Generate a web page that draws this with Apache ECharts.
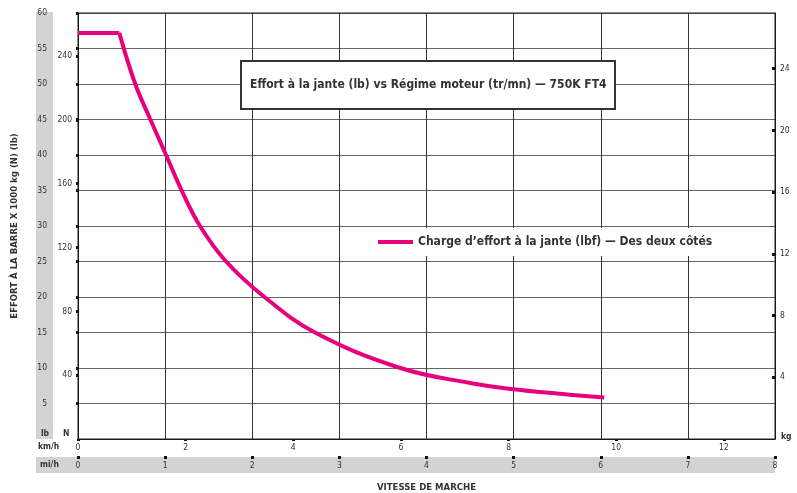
<!DOCTYPE html>
<html><head><meta charset="utf-8">
<script src="https://cdn.jsdelivr.net/npm/echarts@6/dist/echarts.min.js"></script>
<style>html,body{margin:0;padding:0;background:#fff}#c{width:797px;height:493px}</style>
</head><body><div id="c"></div>
<script>
// Data (speed in mi/h, effort in x1000 lb)
const speedMph  = [0, 0.474, 0.654, 0.827, 1.007, 1.19, 1.40, 1.70, 2.14, 2.72, 3.70, 4.50, 5.00, 5.50, 6.04];
const effortKlb = [57.2, 57.2, 50.1, 45.1, 40.1, 35.0, 30.0, 25.0, 20.0, 15.0, 10.0, 7.9, 7.0, 6.4, 5.85];
const cornerIndex = 1; // end of the constant-effort plateau

const seriesName = 'Charge d\u2019effort à la jante (lbf) — Des deux côtés';
const chartTitle = 'Effort à la jante (lb) vs Régime moteur (tr/mn) — 750K FT4';
const yTitle = 'EFFORT À LA BARRE X 1000 kg (N) (lb)';
const xTitle = 'VITESSE DE MARCHE';

// Axis scales
const lbAxis  = {min: 0, max: 60, interval: 5};
const nAxis   = {min: 0, max: 266.9, interval: 40};
const kgAxis  = {min: 0, max: 27.6, interval: 4};
const kmhAxis = {min: 0, max: 12.95, interval: 2};
const mphAxis = {min: 0, max: 8, interval: 1};

const FONT = "'DejaVu Sans Condensed', 'DejaVu Sans', sans-serif";
const PINK = '#E6007E';
const TXT = '#333';

const plateau = speedMph.slice(0, cornerIndex + 1).map((x, i) => [x, effortKlb[i]]);
const decay = speedMph.slice(cornerIndex).map((x, i) => [x, effortKlb[i + cornerIndex]]);

const chart = echarts.init(document.getElementById('c'), null, {renderer: 'canvas'});
const tickSq = {show: true, length: 2, lineStyle: {color: '#111', width: 3}};
const lblBase = {color: TXT, fontSize: 8.5, fontFamily: FONT};
const unitFont = "bold 8.5px 'DejaVu Sans Condensed', 'DejaVu Sans', sans-serif";

chart.setOption({
  animation: false,
  backgroundColor: '#fff',
  title: {
    text: chartTitle, left: 241, top: 61,
    padding: [18, 9, 18, 9],
    borderColor: '#333', borderWidth: 2, backgroundColor: '#fff',
    textStyle: {fontFamily: FONT, fontSize: 12, fontWeight: 'bold', color: TXT}
  },
  legend: {
    left: 373, top: 228, padding: [8, 6, 8, 5],
    backgroundColor: '#fff', icon: 'rect', itemWidth: 35, itemHeight: 4,
    textStyle: {fontFamily: FONT, fontSize: 12, fontWeight: 'bold', color: TXT},
    data: [seriesName]
  },
  grid: {left: 78, right: 22, top: 13, bottom: 54, outerBoundsMode: 'none', containLabel: false,
         show: true, borderColor: '#222', borderWidth: 1, z: 1},
  graphic: [
    {type: 'rect', z: -10, shape: {x: 36, y: 12, width: 17, height: 427}, style: {fill: '#d3d3d3'}},
    {type: 'rect', z: -10, shape: {x: 36, y: 457, width: 739, height: 16}, style: {fill: '#d3d3d3'}},
    {type: 'text', left: 41, top: 429, style: {text: 'lb', fill: TXT, font: unitFont}},
    {type: 'text', left: 63, top: 429, style: {text: 'N', fill: TXT, font: unitFont}},
    {type: 'text', left: 38, top: 442, style: {text: 'km/h', fill: TXT, font: unitFont}},
    {type: 'text', left: 40, top: 460, style: {text: 'mi/h', fill: TXT, font: unitFont}},
    {type: 'text', left: 781, top: 432, style: {text: 'kg', fill: TXT, font: unitFont}}
  ],
  xAxis: [
    {type: 'value', position: 'bottom', offset: 0, ...kmhAxis,
     axisLine: {show: true, onZero: false, lineStyle: {color: '#111', width: 1}},
     axisTick: tickSq, splitLine: {show: false},
     axisLabel: {...lblBase, margin: 4, showMaxLabel: false}},
    {type: 'value', position: 'bottom', offset: 17, ...mphAxis,
     axisLine: {show: true, onZero: false, lineStyle: {color: '#111', width: 1, opacity: 0}},
     axisTick: {show: true, length: 3, lineStyle: {color: '#111', width: 3}},
     splitLine: {show: true, lineStyle: {color: '#333', width: 1}},
     axisLabel: {...lblBase, margin: 5},
     name: xTitle, nameLocation: 'middle', nameGap: 27,
     nameTextStyle: {fontFamily: FONT, fontSize: 9.5, fontWeight: 'bold', color: TXT}}
  ],
  yAxis: [
    {type: 'value', position: 'left', offset: 26, ...lbAxis,
     axisLine: {show: false}, axisTick: tickSq,
     splitLine: {show: true, lineStyle: {color: '#666', width: 1}},
     axisLabel: {...lblBase, margin: 5, showMinLabel: false},
     name: yTitle, nameLocation: 'middle', nameRotate: 90, nameGap: 32,
     nameTextStyle: {fontFamily: FONT, fontSize: 9.5, fontWeight: 'bold', color: TXT}},
    {type: 'value', position: 'left', offset: 0, ...nAxis,
     axisLine: {show: true, lineStyle: {color: '#111'}}, axisTick: tickSq,
     splitLine: {show: false},
     axisLabel: {...lblBase, margin: 6, showMinLabel: false, showMaxLabel: false}},
    {type: 'value', position: 'right', offset: 0, ...kgAxis,
     axisLine: {show: true, lineStyle: {color: '#111'}}, axisTick: {...tickSq, inside: true, length: 3},
     splitLine: {show: false},
     axisLabel: {...lblBase, margin: 5, showMinLabel: false, showMaxLabel: false}}
  ],
  series: [
    {name: seriesName, type: 'line', xAxisIndex: 1, yAxisIndex: 0, data: plateau,
     showSymbol: false, symbol: 'none', lineStyle: {color: PINK, width: 4}, itemStyle: {color: PINK}, z: 5},
    {name: seriesName, type: 'line', xAxisIndex: 1, yAxisIndex: 0, data: decay, smooth: 0.4,
     showSymbol: false, symbol: 'none', lineStyle: {color: PINK, width: 4}, itemStyle: {color: PINK}, z: 5}
  ]
});
</script></body></html>
